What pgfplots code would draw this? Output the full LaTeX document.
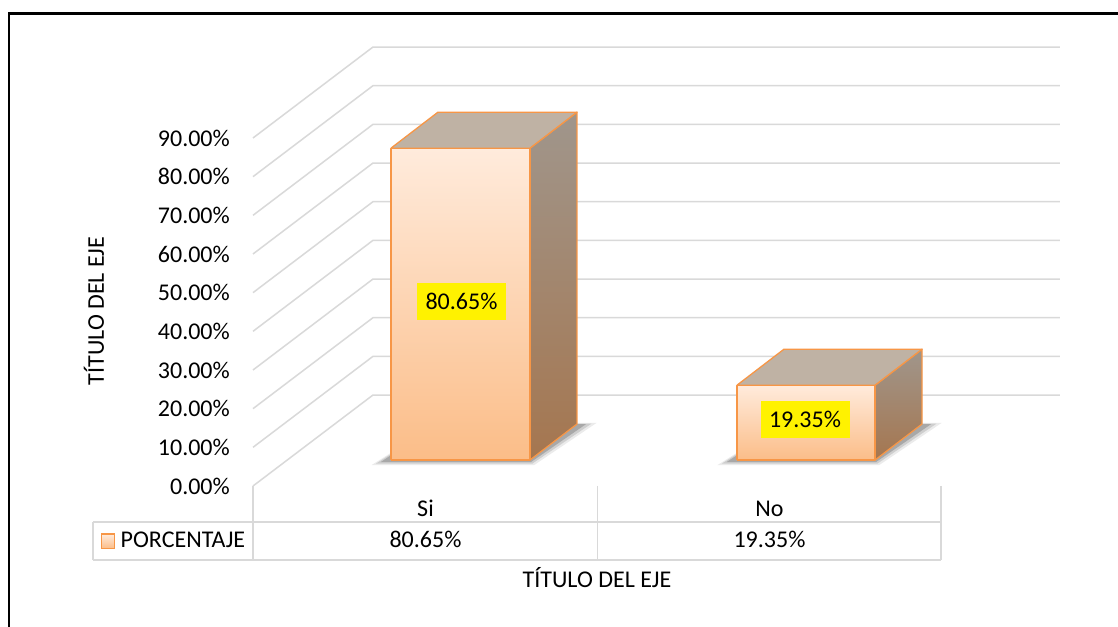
\documentclass[border=0pt]{standalone}
\usepackage{pgfplots}
\pgfplotsset{compat=1.18}
\usepackage{fontspec}
\setmainfont{Carlito}
\definecolor{gridc}{HTML}{D9D9D9}
\definecolor{edgec}{HTML}{F79646}
\definecolor{frontTop}{HTML}{FFEBDC}
\definecolor{frontBot}{HTML}{FBBD88}
\definecolor{sideTop}{HTML}{A0968C}
\definecolor{sideBot}{HTML}{A5764F}
\definecolor{topc}{HTML}{BFB2A4}
\begin{document}
\fontsize{24}{28}\selectfont
\begin{tikzpicture}[x=1pt,y=1pt]
\useasboundingbox (0,0) rectangle (1118,626);
\fill[white] (0,0) rectangle (1118,626);
% outer frame
\draw[line width=2.6pt] (9,-5) -- (9,612.5) -- (1125,612.5);
\begin{axis}[
  at={(253pt,140pt)}, anchor=south west,
  scale only axis, width=807pt, height=439.25pt,
  xmin=0, xmax=2.3494, ymin=0, ymax=113.6,
  axis line style={draw=none}, tick style={draw=none},
  xtick=\empty,
  ytick={0,10,...,90},
  yticklabels={0.00\%,10.00\%,20.00\%,30.00\%,40.00\%,50.00\%,60.00\%,70.00\%,80.00\%,90.00\%},
  yticklabel style={anchor=east, inner sep=0pt, xshift=-23pt, font=\fontsize{24}{28}\selectfont},
  clip=false,
]
% gridlines: front edge, depth diagonal and back wall
\addplot[gridc, line width=1.5pt, forget plot] coordinates {(0,0) (0.3493,23.53) (2.3493,23.53)};
\addplot[gridc, line width=1.5pt, forget plot] coordinates {(0,10) (0.3493,33.53) (2.3493,33.53)};
\addplot[gridc, line width=1.5pt, forget plot] coordinates {(0,20) (0.3493,43.53) (2.3493,43.53)};
\addplot[gridc, line width=1.5pt, forget plot] coordinates {(0,30) (0.3493,53.53) (2.3493,53.53)};
\addplot[gridc, line width=1.5pt, forget plot] coordinates {(0,40) (0.3493,63.53) (2.3493,63.53)};
\addplot[gridc, line width=1.5pt, forget plot] coordinates {(0,50) (0.3493,73.53) (2.3493,73.53)};
\addplot[gridc, line width=1.5pt, forget plot] coordinates {(0,60) (0.3493,83.53) (2.3493,83.53)};
\addplot[gridc, line width=1.5pt, forget plot] coordinates {(0,70) (0.3493,93.53) (2.3493,93.53)};
\addplot[gridc, line width=1.5pt, forget plot] coordinates {(0,80) (0.3493,103.53) (2.3493,103.53)};
\addplot[gridc, line width=1.5pt, forget plot] coordinates {(0,90) (0.3493,113.53) (2.3493,113.53)};
% ---- Si bar (80.65) : base 6.72, top 6.72+80.65=87.37
\addplot[draw=none, fill=black, fill opacity=0.08, forget plot] coordinates {(0.345,5.4) (0.8184,5.4) (1.000,16.3) (0.5385,16.3) (0.345,5.4)};
\addplot[draw=none, fill=black, fill opacity=0.12, forget plot] coordinates {(0.358,5.8) (0.8134,5.8) (0.985,16.1) (0.5385,16.1) (0.358,5.8)};
\addplot[draw=none, fill=black, fill opacity=0.18, forget plot] coordinates {(0.372,6.2) (0.8094,6.2) (0.970,16.03) (0.5385,16.03) (0.372,6.2)};
\addplot[draw=edgec, line width=1.3pt, line join=round, top color=sideTop, bottom color=sideBot, forget plot] coordinates {(0.8064,6.72) (0.9432,16.03) (0.9432,96.68) (0.8064,87.37) (0.8064,6.72)};
\addplot[draw=edgec, line width=1.3pt, line join=round, fill=topc, forget plot] coordinates {(0.4017,87.37) (0.5385,96.68) (0.9432,96.68) (0.8064,87.37) (0.4017,87.37)};
\addplot[draw=edgec, line width=1.3pt, line join=round, top color=frontTop, bottom color=frontBot, forget plot] coordinates {(0.4017,6.72) (0.8064,6.72) (0.8064,87.37) (0.4017,87.37) (0.4017,6.72)};
% ---- No bar (19.35) : base 6.72, top 26.07
\addplot[draw=none, fill=black, fill opacity=0.08, forget plot] coordinates {(1.352,5.4) (1.823,5.4) (2.0046,16.3) (1.5458,16.3) (1.352,5.4)};
\addplot[draw=none, fill=black, fill opacity=0.12, forget plot] coordinates {(1.365,5.8) (1.818,5.8) (1.9896,16.1) (1.5458,16.1) (1.365,5.8)};
\addplot[draw=none, fill=black, fill opacity=0.18, forget plot] coordinates {(1.379,6.2) (1.814,6.2) (1.9746,16.03) (1.5458,16.03) (1.379,6.2)};
\addplot[draw=edgec, line width=1.3pt, line join=round, top color=sideTop, bottom color=sideBot, forget plot] coordinates {(1.811,6.72) (1.9478,16.03) (1.9478,35.38) (1.811,26.07) (1.811,6.72)};
\addplot[draw=edgec, line width=1.3pt, line join=round, fill=topc, forget plot] coordinates {(1.409,26.07) (1.5458,35.38) (1.9478,35.38) (1.811,26.07) (1.409,26.07)};
\addplot[draw=edgec, line width=1.3pt, line join=round, top color=frontTop, bottom color=frontBot, forget plot] coordinates {(1.409,6.72) (1.811,6.72) (1.811,26.07) (1.409,26.07) (1.409,6.72)};
% data labels
\node[fill=yellow, minimum width=89pt, minimum height=37pt, inner sep=0pt, font=\fontsize{24}{28}\selectfont] at (axis cs:0.607,47.8) {80.65\%};
\node[fill=yellow, minimum width=89pt, minimum height=37pt, inner sep=0pt, font=\fontsize{24}{28}\selectfont] at (axis cs:1.607,17.2) {19.35\%};
\end{axis}
% data table
\draw[gridc, line width=1.5pt] (253,140) -- (253,66);
\draw[gridc, line width=1.5pt] (597.5,140) -- (597.5,66);
\draw[gridc, line width=1.5pt] (941,140) -- (941,66);
\draw[gridc, line width=1.5pt] (93,104) -- (941,104);
\draw[gridc, line width=1.5pt] (93,66) -- (941,66);
\draw[gridc, line width=1.5pt] (93,104) -- (93,66);
\node[anchor=base, inner sep=0pt] at (425.5,109) {Si};
\node[anchor=base, inner sep=0pt] at (769.5,109) {No};
\node[anchor=base, inner sep=0pt] at (425.5,78) {80.65\%};
\node[anchor=base, inner sep=0pt] at (769.5,78) {19.35\%};
\shade[top color=frontTop, bottom color=frontBot, draw=edgec, line width=1.3pt] (101.5,77.5) rectangle (114.5,92);
\node[anchor=base west, inner sep=0pt] at (120.5,78.5) {PORCENTAJE};
% axis titles
\node[anchor=base, inner sep=0pt] at (597,38) {TÍTULO DEL EJE};
\node[rotate=90, inner sep=0pt] at (94,315) {TÍTULO DEL EJE};
\end{tikzpicture}
\end{document}
